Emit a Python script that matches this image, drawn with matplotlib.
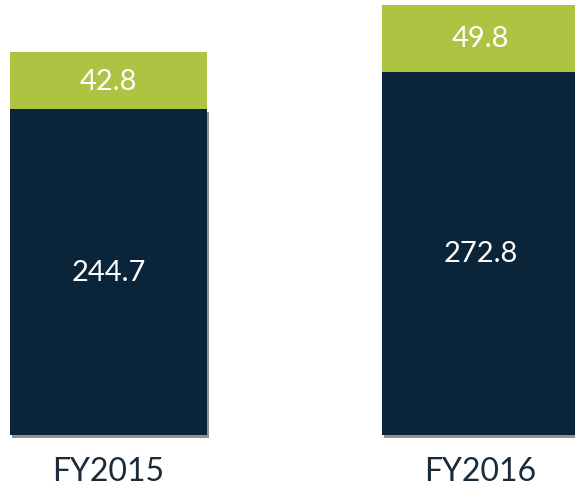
import matplotlib
matplotlib.use("Agg")
import matplotlib.pyplot as plt
import matplotlib.patheffects as pe

categories = ["FY2015", "FY2016"]
base_values = [244.7, 272.8]
top_values = [42.8, 49.8]

navy = "#0A2439"
green = "#ADC443"

fig = plt.figure(figsize=(5.75, 4.89), dpi=100)
ax = fig.add_axes([0, 53/489, 1, 436/489])
ax.set_xlim(-0.2917, 1.254)
ax.set_ylim(0, 327.3)
ax.axis("off")

x = list(range(len(categories)))
width = 0.53
shadow = [pe.SimplePatchShadow(offset=(1.5, -2), shadow_rgbFace="#777777", alpha=0.8), pe.Normal()]
b1 = ax.bar(x, base_values, width=width, color=navy, path_effects=shadow, zorder=2)
for p in b1:
    p.set_clip_on(False)
b2 = ax.bar(x, top_values, width=width, bottom=base_values, color=green, zorder=2)

font = ["Lato", "DejaVu Sans"]
for xi, bv, tv in zip(x, base_values, top_values):
    ax.text(xi, bv / 2, f"{bv}", ha="center", va="center", color="white",
            fontsize=21, family=font, zorder=3)
    ax.text(xi, bv + tv / 2, f"{tv}", ha="center", va="center", color="white",
            fontsize=21, family=font, zorder=3)
    ax.text(xi, -27, categories[xi], ha="center", va="center", color="#1B2B3A",
            fontsize=23, family=font, clip_on=False)

fig.savefig("out.png", dpi=100)
